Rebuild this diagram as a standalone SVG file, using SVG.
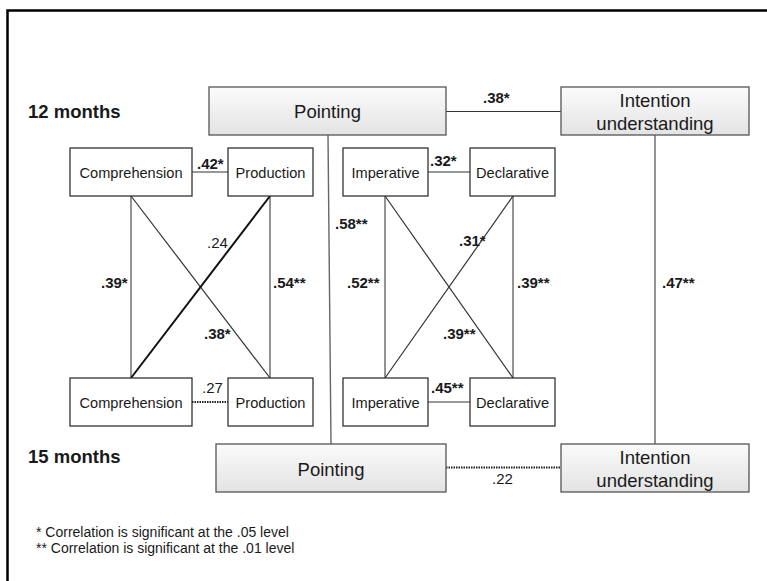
<svg xmlns="http://www.w3.org/2000/svg" width="767" height="581" viewBox="0 0 767 581">
<defs>
<linearGradient id="g" x1="0" y1="0" x2="0" y2="1">
<stop offset="0" stop-color="#fbfbfb"/>
<stop offset="1" stop-color="#e3e3e3"/>
</linearGradient>
</defs>
<style>
text{font-family:"Liberation Sans",Arial,sans-serif;fill:#1a1a1a}
.big rect{fill:url(#g);stroke:#555;stroke-width:1.3}
.big text{font-size:18.5px;text-anchor:middle}
.sm rect{fill:#fff;stroke:#333;stroke-width:1.3}
.sm text{font-size:14.6px;text-anchor:middle}
.c line{stroke:#333;stroke-width:1.2}
.c .v{stroke:#666;stroke-width:1.4}
.c .thick{stroke:#111;stroke-width:2}
.c .dot{stroke:#222;stroke-width:1.8;stroke-dasharray:1.5 1}
.lb{font-size:15px}
.b{font-weight:bold}
.hd{font-size:18.5px;font-weight:bold}
.fn{font-size:14px}
</style>
<rect x="7.5" y="10.5" width="800" height="620" fill="none" stroke="#000" stroke-width="2.5"/>
<text class="hd" x="28" y="118">12 months</text>
<text class="hd" x="28" y="463">15 months</text>
<g class="c">
<line x1="446" y1="111.5" x2="561" y2="111.5"/>
<line class="dot" x1="446" y1="467.5" x2="561" y2="467.5"/>
<line class="v" x1="328" y1="135" x2="331" y2="444"/>
<line class="v" x1="655" y1="135" x2="655" y2="444"/>
<line x1="192" y1="172" x2="228" y2="172"/>
<line class="dot" x1="192" y1="402" x2="228" y2="402"/>
<line class="v" x1="131" y1="196" x2="131" y2="378"/>
<line class="v" x1="270" y1="196" x2="270" y2="378"/>
<line x1="131" y1="196" x2="270" y2="378"/>
<line class="thick" x1="270" y1="196" x2="131" y2="378"/>
<line x1="428" y1="172" x2="470" y2="172"/>
<line x1="428" y1="402" x2="470" y2="402"/>
<line class="v" x1="385" y1="196" x2="385" y2="378"/>
<line class="v" x1="513" y1="196" x2="513" y2="378"/>
<line x1="385" y1="196" x2="513" y2="378"/>
<line x1="513" y1="196" x2="385" y2="378"/>
</g>
<g id="pointing12" class="big"><rect x="209" y="87" width="237" height="48"/><text x="327.5" y="118">Pointing</text></g>
<g id="intention12" class="big"><rect x="561" y="87" width="188" height="48"/><text x="655" y="106.5">Intention</text><text x="655" y="129.5">understanding</text></g>
<g id="pointing15" class="big"><rect x="216" y="444" width="230" height="48"/><text x="331" y="475.5">Pointing</text></g>
<g id="intention15" class="big"><rect x="561" y="444" width="188" height="48"/><text x="655" y="463.5">Intention</text><text x="655" y="486.5">understanding</text></g>
<g id="comp12" class="sm"><rect x="70" y="148" width="122" height="48"/><text x="131" y="178">Comprehension</text></g>
<g id="prod12" class="sm"><rect x="228" y="148" width="85" height="48"/><text x="270.5" y="178">Production</text></g>
<g id="comp15" class="sm"><rect x="70" y="378" width="122" height="48"/><text x="131" y="408">Comprehension</text></g>
<g id="prod15" class="sm"><rect x="228" y="378" width="85" height="48"/><text x="270.5" y="408">Production</text></g>
<g id="imp12" class="sm"><rect x="343" y="148" width="85" height="48"/><text x="385.5" y="178">Imperative</text></g>
<g id="dec12" class="sm"><rect x="470" y="148" width="85" height="48"/><text x="512.5" y="178">Declarative</text></g>
<g id="imp15" class="sm"><rect x="343" y="378" width="85" height="48"/><text x="385.5" y="408">Imperative</text></g>
<g id="dec15" class="sm"><rect x="470" y="378" width="85" height="48"/><text x="512.5" y="408">Declarative</text></g>
<g id="labels">
<text class="lb b" x="483" y="103">.38*</text>
<text class="lb b" x="197" y="169">.42*</text>
<text class="lb b" x="430" y="166">.32*</text>
<text class="lb" x="207" y="248">.24</text>
<text class="lb b" x="335" y="229">.58**</text>
<text class="lb b" x="459" y="246">.31*</text>
<text class="lb b" x="101" y="288">.39*</text>
<text class="lb b" x="273" y="288">.54**</text>
<text class="lb b" x="347" y="288">.52**</text>
<text class="lb b" x="517" y="288">.39**</text>
<text class="lb b" x="662" y="288">.47**</text>
<text class="lb b" x="204" y="339">.38*</text>
<text class="lb b" x="443" y="339">.39**</text>
<text class="lb" x="202" y="393">.27</text>
<text class="lb b" x="431" y="393">.45**</text>
<text class="lb" x="492" y="484">.22</text>
</g>
<text class="fn" x="36" y="537">* Correlation is significant at the .05 level</text>
<text class="fn" x="36" y="553">** Correlation is significant at the .01 level</text>
</svg>
